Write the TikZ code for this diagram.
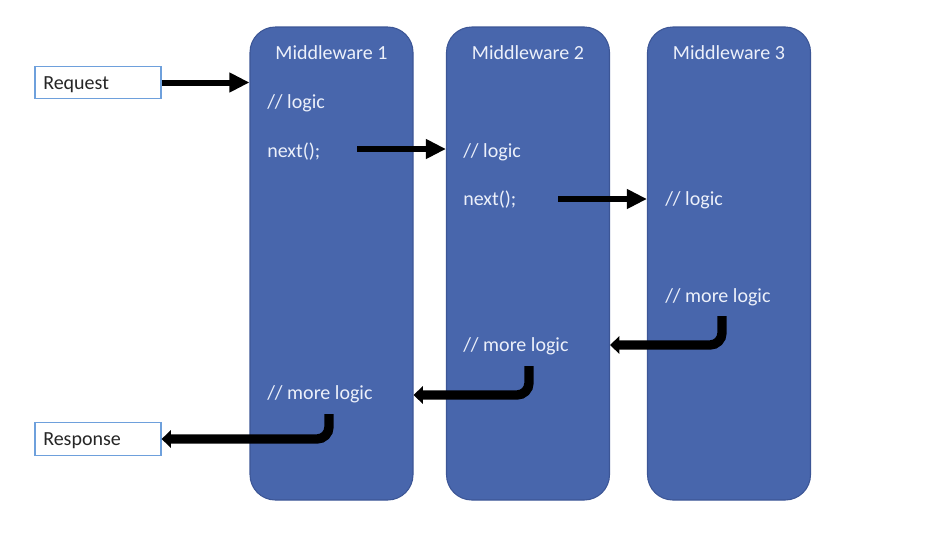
\documentclass[tikz,border=0pt]{standalone}
\usepackage{fontspec}
\setmainfont{Carlito}
\usetikzlibrary{arrows.meta,calc}
\definecolor{mwfill}{RGB}{72,102,172}
\definecolor{mwdraw}{RGB}{60,86,150}
\definecolor{mwtext}{RGB}{236,240,250}
\definecolor{iobord}{RGB}{110,160,220}
\begin{document}
\begin{tikzpicture}[x=0.75pt,y=-0.75pt,
  mwbox/.style={draw=mwdraw,line width=0.8pt,fill=mwfill,rounded corners=19pt,
    minimum width=122.25pt,minimum height=354.75pt,inner sep=0pt},
  mwtitle/.style={text=mwtext,font=\fontsize{15}{18}\selectfont,inner sep=0pt,yshift=-1.5pt},
  code/.style={text=mwtext,font=\fontsize{15}{18}\selectfont,inner sep=0pt,anchor=west,yshift=-1.5pt},
  iobox/.style={draw=iobord,line width=0.9pt,fill=white,minimum width=94.5pt,minimum height=24.5pt,
    inner sep=0pt,text=black,font=\fontsize{15}{18}\selectfont},
  iotext/.style={anchor=west,inner sep=0pt,text=black!85,font=\fontsize{15}{18}\selectfont,yshift=-1.5pt},
  fwd/.style={line width=4.5pt,-{Triangle[length=15pt,width=14pt]}},
  ret/.style={line width=7pt,rounded corners=9pt,-{Triangle[length=7pt,width=13pt]}}
]
\useasboundingbox (0,0) rectangle (930,536);
% middleware boxes
\node[mwbox] (mw1) at (331.5,263.5) {};
\node[mwbox] (mw2) at (528,263.5) {};
\node[mwbox] (mw3) at (729,263.5) {};
% titles
\node[mwtitle] (t1) at (331.5,51) {Middleware 1};
\node[mwtitle] (t2) at (528,51) {Middleware 2};
\node[mwtitle] (t3) at (729,51) {Middleware 3};
% code lines
\node[code] (l1) at (267,101) {// logic};
\node[code] (n1) at (267,150) {next();};
\node[code] (l2) at (463,150) {// logic};
\node[code] (n2) at (463,198) {next();};
\node[code] (l3) at (665,198) {// logic};
\node[code] (m3) at (665,295) {// more logic};
\node[code] (m2) at (463,344) {// more logic};
\node[code] (m1) at (267,392) {// more logic};
% request / response
\node[iobox] (req) at (98,82.5) {};
\node[iotext] (reqt) at (43,83) {Request};
\node[iobox] (res) at (98,439) {};
\node[iotext] (rest) at (43,439) {Response};
% forward arrows
\draw[fwd] (req.east) -- (req.east -| mw1.west);
\coordinate (f1) at (357,149);
\draw[fwd] (f1) -- (f1 -| mw2.west);
\coordinate (f2) at (558,199);
\draw[fwd] (f2) -- (f2 -| mw3.west);
% return arrows
\coordinate (r3s) at (722,316);
\coordinate (r3e) at (mw2.east |- 0,345);
\draw[ret] (r3s) |- (r3e);
\coordinate (r2s) at (529,366);
\coordinate (r2e) at (mw1.east |- 0,395);
\draw[ret] (r2s) |- (r2e);
\coordinate (r1s) at (329,414);
\draw[ret] (r1s) |- (res.east);
\end{tikzpicture}
\end{document}
